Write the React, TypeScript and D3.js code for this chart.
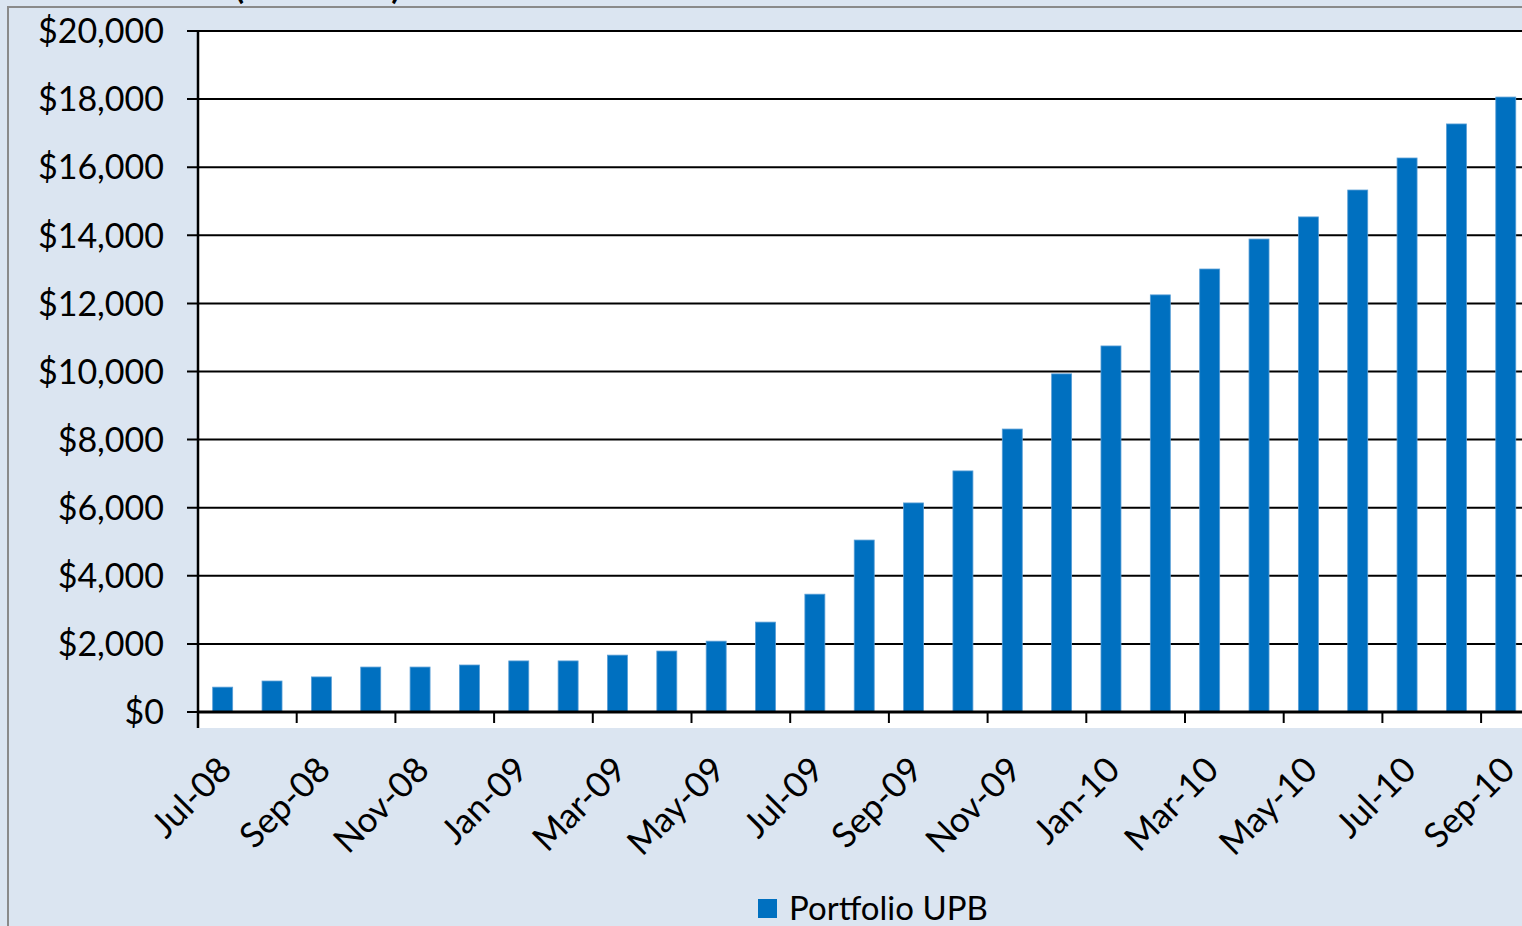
import { useEffect, useRef } from "react";
import * as d3 from "d3";

const months = [
  "Jul-08", "Aug-08", "Sep-08", "Oct-08", "Nov-08", "Dec-08",
  "Jan-09", "Feb-09", "Mar-09", "Apr-09", "May-09", "Jun-09",
  "Jul-09", "Aug-09", "Sep-09", "Oct-09", "Nov-09", "Dec-09",
  "Jan-10", "Feb-10", "Mar-10", "Apr-10", "May-10", "Jun-10",
  "Jul-10", "Aug-10", "Sep-10",
];

// Portfolio UPB, $ millions
const upb = [
  730, 910, 1030, 1320, 1320, 1380,
  1500, 1500, 1670, 1790, 2080, 2640,
  3460, 5050, 6140, 7080, 8310, 9930,
  10750, 12250, 13010, 13890, 14540, 15330,
  16270, 17270, 18060,
];

const yTicks = [0, 2000, 4000, 6000, 8000, 10000, 12000, 14000, 16000, 18000, 20000];
const seriesName = "Portfolio UPB";
const titleText = "(in millions)";

export default function App() {
  const ref = useRef<SVGSVGElement | null>(null);
  const width = 1522;
  const height = 926;

  useEffect(() => {
    if (!ref.current) return;
    const svg = d3.select(ref.current);
    svg.selectAll("*").remove();

    const font = "Lato, 'Open Sans', sans-serif";
    const left = 198;
    const step = 49.35;
    const plotRight = left + step * months.length;
    const top = 31;
    const bottom = 712;

    // background + frame
    svg.append("rect").attr("width", width).attr("height", height).attr("fill", "#dbe5f1");
    svg.append("rect")
      .attr("x", 8).attr("y", 7)
      .attr("width", width + 20).attr("height", height + 20)
      .attr("fill", "none").attr("stroke", "#8a8a8a").attr("stroke-width", 2);

    // title sits above the frame, only its bottom edge shows
    svg.append("text")
      .attr("x", 235).attr("y", -1)
      .attr("font-family", font).attr("font-weight", "bold").attr("font-size", 33)
      .attr("fill", "black")
      .text(titleText);

    const x = d3.scaleBand<string>()
      .domain(months)
      .range([left, plotRight])
      .paddingInner(0.595)
      .paddingOuter(0.2975);

    const y = d3.scaleLinear().domain([0, 20000]).range([bottom, top]);

    // plot area
    svg.append("rect")
      .attr("x", left).attr("y", top)
      .attr("width", plotRight - left).attr("height", 728 - top)
      .attr("fill", "white");

    // gridlines
    svg.append("g")
      .selectAll("line")
      .data(yTicks.filter(d => d > 0))
      .enter()
      .append("line")
      .attr("x1", left - 11).attr("x2", plotRight)
      .attr("y1", d => y(d)).attr("y2", d => y(d))
      .attr("stroke", "black").attr("stroke-width", 2);

    // bars
    svg.append("g")
      .selectAll("rect")
      .data(months)
      .enter()
      .append("rect")
      .attr("x", d => x(d)!)
      .attr("y", (_, i) => y(upb[i]))
      .attr("width", x.bandwidth())
      .attr("height", (_, i) => bottom - y(upb[i]))
      .attr("fill", "#0070c0")
      .attr("stroke", "#5a9fd6")
      .attr("stroke-width", 0.8);

    // y axis
    svg.append("line")
      .attr("x1", left).attr("x2", left)
      .attr("y1", top - 1).attr("y2", bottom + 16)
      .attr("stroke", "black").attr("stroke-width", 2.5);
    svg.append("line")
      .attr("x1", left - 11).attr("x2", left)
      .attr("y1", bottom).attr("y2", bottom)
      .attr("stroke", "black").attr("stroke-width", 2);

    svg.append("g")
      .selectAll("text")
      .data(yTicks)
      .enter()
      .append("text")
      .attr("x", 164)
      .attr("y", d => y(d))
      .attr("dy", "0.36em")
      .attr("text-anchor", "end")
      .attr("font-family", font).attr("font-size", 34)
      .attr("fill", "black")
      .text(d => d3.format("$,")(d));

    // x axis
    svg.append("line")
      .attr("x1", left).attr("x2", plotRight)
      .attr("y1", bottom).attr("y2", bottom)
      .attr("stroke", "black").attr("stroke-width", 3);

    const tickMonths = months.filter((_, i) => i % 2 === 0);
    const gap = (x.step() - x.bandwidth()) / 2;
    svg.append("g")
      .selectAll("line")
      .data(tickMonths)
      .enter()
      .append("line")
      .attr("x1", d => x(d)! - gap).attr("x2", d => x(d)! - gap)
      .attr("y1", bottom).attr("y2", bottom + 11)
      .attr("stroke", "black").attr("stroke-width", 2);

    svg.append("g")
      .selectAll("text")
      .data(tickMonths)
      .enter()
      .append("text")
      .attr("transform", d => `translate(${x(d)! + x.bandwidth() / 2 + 11},${bottom + 60}) rotate(-45)`)
      .attr("text-anchor", "end")
      .attr("font-family", font).attr("font-size", 35)
      .attr("fill", "black")
      .text(d => d);

    // legend
    svg.append("rect")
      .attr("x", 758).attr("y", 899)
      .attr("width", 19).attr("height", 19)
      .attr("fill", "#0070c0");
    svg.append("text")
      .attr("x", 789).attr("y", 920)
      .attr("font-family", font).attr("font-size", 33)
      .attr("fill", "black")
      .text(seriesName);
  }, []);

  return (
    <div style={{ position: "absolute", left: 0, top: 0, width, height, overflow: "hidden" }}>
      <svg ref={ref} width={width} height={height} style={{ display: "block" }} />
    </div>
  );
}
